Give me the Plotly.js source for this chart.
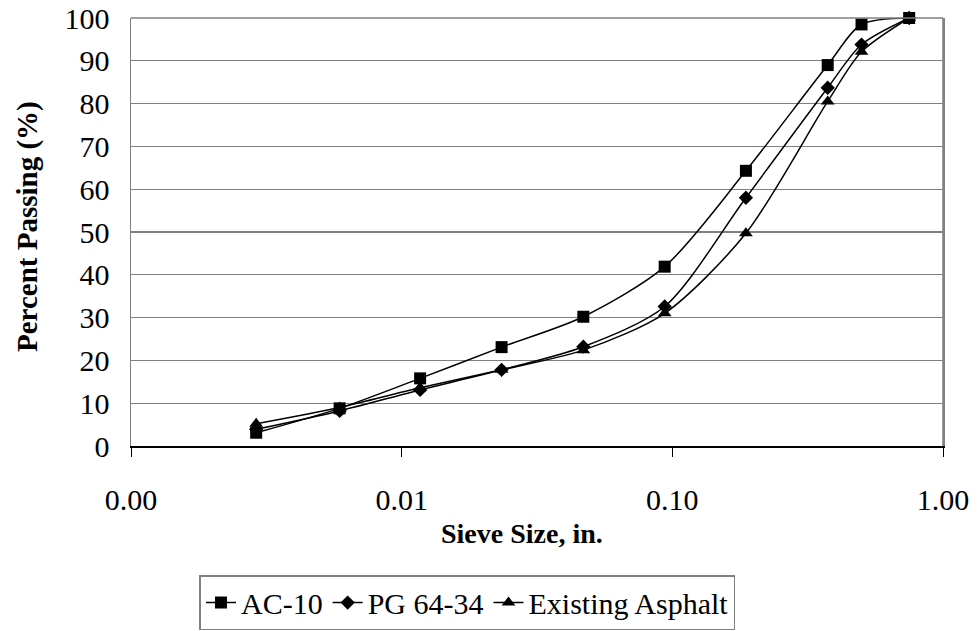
<!DOCTYPE html>
<html>
<head>
<meta charset="utf-8">
<script src="https://cdn.plot.ly/plotly-3.0.1.min.js"></script>
<style>
html,body{margin:0;padding:0;background:#fff;}
#chart{width:977px;height:631px;}
</style>
</head>
<body>
<div id="chart"></div>
<script>
// Sieve sizes (in.)
const sieveSize = [0.0029, 0.0059, 0.0117, 0.0234, 0.0469, 0.0937, 0.187, 0.375, 0.5, 0.75];
// Percent passing
const ac10 = [3.1, 8.8, 15.8, 23.1, 30.2, 41.9, 64.3, 89.0, 98.5, 100];
const pg6434 = [3.9, 8.2, 13.1, 17.8, 23.2, 32.6, 58.0, 83.7, 93.8, 100];
const existingAsphalt = [5.2, 9.0, 13.6, 17.8, 22.4, 31.0, 49.7, 80.5, 92.1, 100];
const seriesNames = ['AC-10', 'PG 64-34', 'Existing Asphalt'];
const xTitle = 'Sieve Size, in.';
const yTitle = 'Percent Passing (%)';
const xTickVals = [0.001, 0.01, 0.1, 1];
const xTickText = ['0.00', '0.01', '0.10', '1.00'];
const yTickVals = [0, 10, 20, 30, 40, 50, 60, 70, 80, 90, 100];

const FONT = 'Liberation Serif, Times New Roman, serif';

function mk(name, y, symbol, size) {
  return {
    x: sieveSize, y: y, name: name, type: 'scatter', mode: 'lines+markers',
    line: {color: '#000', width: 1.5, shape: 'spline', smoothing: 0.8},
    marker: {symbol: symbol, size: size, color: '#000'},
    cliponaxis: false
  };
}

const data = [
  mk(seriesNames[0], ac10, 'square', 12),
  mk(seriesNames[1], pg6434, 'diamond', 11),
  mk(seriesNames[2], existingAsphalt, 'triangle-up', 12)
];

const layout = {
  width: 977, height: 631,
  margin: {l: 131, r: 34, t: 18, b: 185, autoexpand: false},
  paper_bgcolor: '#fff', plot_bgcolor: '#fff',
  font: {family: FONT, size: 30, color: '#000'},
  showlegend: true,
  legend: {
    orientation: 'h', xref: 'container', yref: 'container',
    x: 0.4785, xanchor: 'center', y: 0.0887, yanchor: 'top',
    bordercolor: '#808080', borderwidth: 1.5, bgcolor: '#fff',
    font: {family: FONT, size: 30, color: '#000'},
    itemwidth: 30, tracegroupgap: 0
  },
  xaxis: {
    type: 'log', range: [-3, 0], automargin: false,
    tickmode: 'array', tickvals: xTickVals, ticktext: xTickText,
    ticks: 'outside', ticklen: 9, tickwidth: 1, tickcolor: '#000',
    showline: true, linecolor: '#000', linewidth: 2,
    showgrid: false, zeroline: false,
    ticklabelstandoff: 17,
    tickfont: {family: FONT, size: 30, color: '#000'}
  },
  yaxis: {
    range: [0, 100], automargin: false,
    tickmode: 'array', tickvals: yTickVals,
    ticks: 'inside', ticklen: 6, tickcolor: '#808080', mirror: 'ticks',
    showline: true, linecolor: '#808080', linewidth: 1.5,
    showgrid: true, gridcolor: '#808080', gridwidth: 1.2,
    zeroline: false,
    ticklabelstandoff: 14,
    tickfont: {family: FONT, size: 30, color: '#000'}
  },
  annotations: [
    {text: '<b>' + xTitle + '</b>', xref: 'paper', yref: 'paper', x: 0.5, y: 0,
     xanchor: 'center', yanchor: 'middle', xshift: -15, yshift: -87, showarrow: false,
     font: {family: FONT, size: 28, color: '#000'}},
    {text: '<b>' + yTitle + '</b>', xref: 'paper', yref: 'paper', x: 0, y: 0.5,
     xanchor: 'center', yanchor: 'middle', xshift: -104, yshift: 5, textangle: -90, showarrow: false,
     font: {family: FONT, size: 29, color: '#000'}}
  ],
  shapes: [
    {type: 'line', xref: 'paper', yref: 'paper', x0: 0, x1: 1, y0: 1, y1: 1, line: {color: '#808080', width: 1.5}},
    {type: 'line', xref: 'paper', yref: 'paper', x0: 1, x1: 1, y0: 0, y1: 1, line: {color: '#808080', width: 1.5}}
  ]
};

Plotly.newPlot('chart', data, layout, {displayModeBar: false, staticPlot: true});
</script>
</body>
</html>
